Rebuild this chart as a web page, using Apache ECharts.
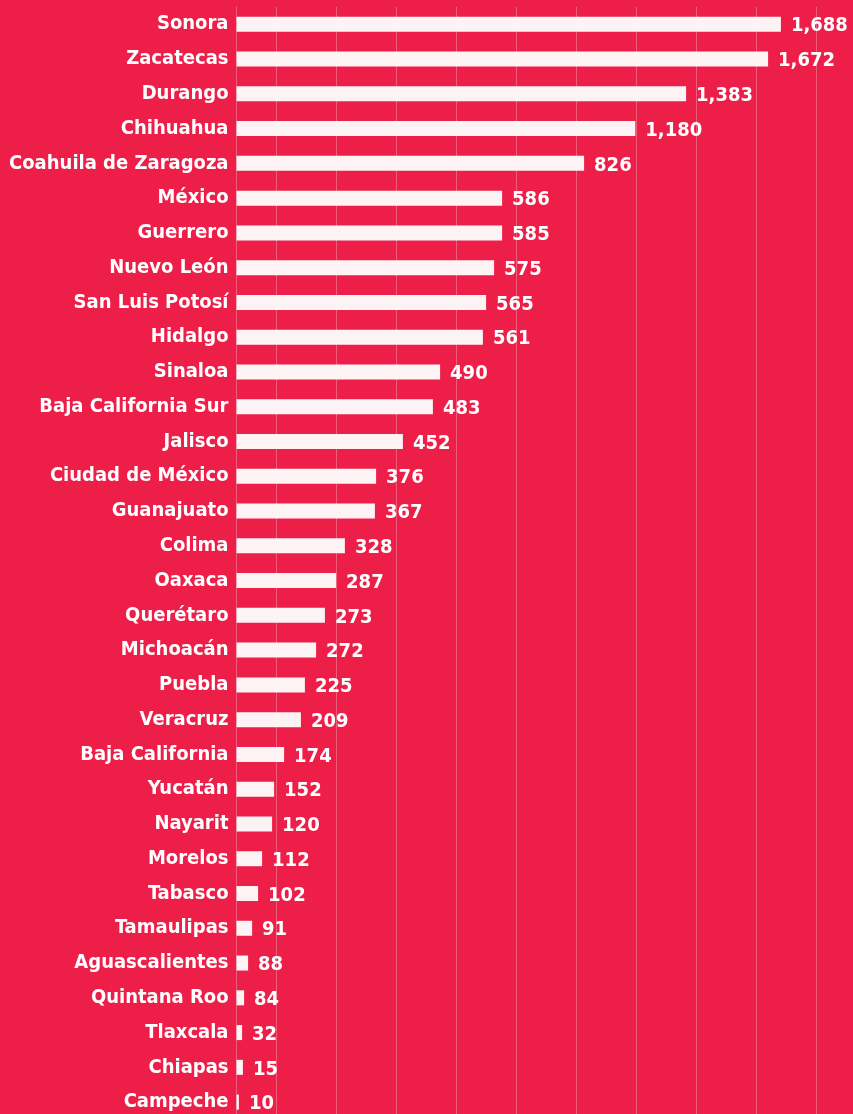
<!DOCTYPE html>
<html>
<head>
<meta charset="utf-8">
<script src="https://cdn.jsdelivr.net/npm/echarts@6/dist/echarts.min.js"></script>
<style>
html,body{margin:0;padding:0;background:#ED1E48;}
#chart{width:853px;height:1114px;}
</style>
</head>
<body>
<div id="chart"></div>
<script>
// Categories (top to bottom)
const categories = ["Sonora","Zacatecas","Durango","Chihuahua","Coahuila de Zaragoza","México","Guerrero","Nuevo León","San Luis Potosí","Hidalgo","Sinaloa","Baja California Sur","Jalisco","Ciudad de México","Guanajuato","Colima","Oaxaca","Querétaro","Michoacán","Puebla","Veracruz","Baja California","Yucatán","Nayarit","Morelos","Tabasco","Tamaulipas","Aguascalientes","Quintana Roo","Tlaxcala","Chiapas","Campeche"];
// Bar lengths (axis units)
const barValues = [1361,1329,1124,997,869,664,664,644,624,616,509,491,416,349,346,271,249,221,199,171,161,119,94,89,64,54,39,29,19,14,16,6];
// Printed value labels
const valueLabels = ["1,688","1,672","1,383","1,180","826","586","585","575","565","561","490","483","452","376","367","328","287","273","272","225","209","174","152","120","112","102","91","88","84","32","15","10"];

const FONT = '"Liberation Sans Narrow","Arial Narrow","DejaVu Sans Condensed",sans-serif';
const gridColor = 'rgba(255,255,255,0.28)';
const chart = echarts.init(document.getElementById('chart'), null, {renderer:'canvas'});
chart.setOption({
  animation:false,
  backgroundColor:'#ED1E48',
  grid:{left:216.5, right:0.5, top:6.9, bottom:-5.5, containLabel:false, outerBoundsMode:'none'},
  xAxis:{
    type:'value', min:-50, max:1540, interval:150,
    axisLabel:{show:false}, axisTick:{show:false}, axisLine:{show:false},
    splitLine:{show:true, lineStyle:{width:1, color:['rgba(0,0,0,0)',gridColor,gridColor,gridColor,gridColor,gridColor,gridColor,gridColor,gridColor,gridColor,gridColor]}}
  },
  yAxis:{
    type:'category', data:categories, inverse:true,
    axisLine:{show:true, onZero:true, onZeroAxisIndex:0, lineStyle:{color:gridColor, width:1}},
    axisTick:{show:false},
    axisLabel:{color:'#FFFFFF', fontSize:20, fontWeight:'bold', fontFamily:FONT, margin:-12, padding:[4,0,0,0]}
  },
  series:[{
    type:'bar', data:barValues, barWidth:15,
    itemStyle:{color:'#FDF3F5'},
    label:{show:true, position:'right', distance:10, offset:[0,2],
      formatter:(p)=>valueLabels[p.dataIndex],
      color:'#FFFFFF', fontSize:20, fontWeight:'bold', fontFamily:FONT}
  }]
});
</script>
</body>
</html>
